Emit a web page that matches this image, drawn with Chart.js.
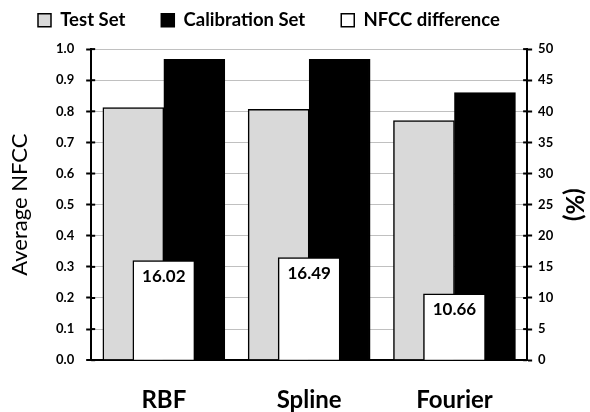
<!DOCTYPE html>
<html>
<head>
<meta charset="utf-8">
<script src="https://cdn.jsdelivr.net/npm/chart.js@4"></script>
<style>
  html, body { margin: 0; padding: 0; background: #fff; }
  #wrap { width: 590px; height: 412px; }
</style>
</head>
<body>
<div id="wrap"><canvas id="nfccChart"></canvas></div>
<script>
const methods = ["RBF", "Spline", "Fourier"];
const testSet = [0.812, 0.806, 0.770];
const calibrationSet = [0.967, 0.967, 0.860];
const nfccDifference = [16.02, 16.49, 10.66];

const FONT = "Lato, 'Open Sans', sans-serif";

// ticks that cross the axis line (inner half)
const innerTicks = {
    id: "innerTicks",
    afterDraw(chart) {
        const ctx = chart.ctx;
        ctx.save();
        ctx.strokeStyle = "#000";
        ctx.lineWidth = 2;
        ["y", "y1"].forEach(id => {
            const scale = chart.scales[id];
            const x = id === "y" ? chart.chartArea.left : chart.chartArea.right;
            const dir = id === "y" ? 1 : -1;
            scale.ticks.forEach((t, i) => {
                const py = scale.getPixelForTick(i);
                ctx.beginPath();
                ctx.moveTo(x, py);
                ctx.lineTo(x + dir * 4, py);
                ctx.stroke();
            });
        });
        ctx.restore();
    }
};

// value labels inside the white bars
const diffLabels = {
    id: "diffLabels",
    afterDatasetsDraw(chart) {
        const ctx = chart.ctx;
        const meta = chart.getDatasetMeta(2);
        ctx.save();
        ctx.font = "bold 17px " + FONT;
        ctx.fillStyle = "#000";
        ctx.textAlign = "center";
        ctx.textBaseline = "middle";
        meta.data.forEach((bar, i) => {
            ctx.fillText(nfccDifference[i].toFixed(2), bar.x, bar.y + 16);
        });
        ctx.restore();
    }
};

new Chart(document.getElementById("nfccChart"), {
    type: "bar",
    data: {
        labels: methods,
        datasets: [
            {
                label: "Test Set",
                data: testSet,
                backgroundColor: "#d9d9d9",
                borderColor: "#000",
                borderWidth: 1.5,
                barThickness: 61,
                yAxisID: "y",
                order: 1
            },
            {
                label: "Calibration Set",
                data: calibrationSet,
                backgroundColor: "#000",
                borderColor: "#000",
                borderWidth: 1.5,
                barThickness: 61,
                yAxisID: "y",
                order: 2
            },
            {
                label: "NFCC difference",
                data: nfccDifference,
                backgroundColor: "#fff",
                borderColor: "#000",
                borderWidth: 1.5,
                barThickness: 62,
                grouped: false,
                yAxisID: "y1",
                order: 0
            }
        ]
    },
    options: {
        responsive: true,
        maintainAspectRatio: false,
        animation: false,
        layout: { padding: { top: -25, left: 2, right: 2, bottom: -21 } },
        plugins: {
            tooltip: { enabled: false },
            // empty spacer between legend and plot
            title: { display: true, text: "", weight: 500, padding: 0, font: { size: 8 } },
            legend: {
                position: "top",
                align: "start",
                labels: {
                    boxWidth: 13,
                    boxHeight: 13,
                    padding: 36,
                    color: "#000",
                    font: { family: FONT, size: 18.5, weight: "bold" },
                    sort: (a, b) => a.datasetIndex - b.datasetIndex
                }
            }
        },
        scales: {
            x: {
                grid: { display: false },
                border: { display: true, color: "#000", width: 2 },
                ticks: {
                    padding: 18,
                    color: "#000",
                    font: { family: FONT, size: 24, weight: "bold" }
                }
            },
            y: {
                position: "left",
                min: 0,
                max: 1,
                ticks: {
                    stepSize: 0.1,
                    padding: 12,
                    color: "#000",
                    font: { family: FONT, size: 13, weight: "bold" },
                    callback: v => v.toFixed(1)
                },
                grid: {
                    color: c => (c.tick && c.tick.value === 0 ? "#000" : "#c0c0c0"),
                    lineWidth: c => (c.tick && c.tick.value === 0 ? 2 : 1),
                    tickColor: "#000",
                    tickLength: 5,
                    tickWidth: 2
                },
                border: { color: "#000", width: 2 },
                title: {
                    display: true,
                    text: "Average NFCC",
                    color: "#000",
                    padding: { top: 5, bottom: 10.6 },
                    font: { family: FONT, size: 22 }
                }
            },
            y1: {
                position: "right",
                min: 0,
                max: 50,
                ticks: {
                    stepSize: 5,
                    padding: 6,
                    color: "#000",
                    font: { family: FONT, size: 13, weight: "bold" }
                },
                grid: { drawOnChartArea: false, tickColor: "#000", tickLength: 5, tickWidth: 2 },
                border: { color: "#000", width: 2 },
                title: {
                    display: true,
                    text: "(%)",
                    color: "#000",
                    padding: { top: 0, bottom: 0 },
                    font: { family: FONT, size: 24, weight: "bold" }
                }
            }
        }
    },
    plugins: [innerTicks, diffLabels]
});
</script>
</body>
</html>
